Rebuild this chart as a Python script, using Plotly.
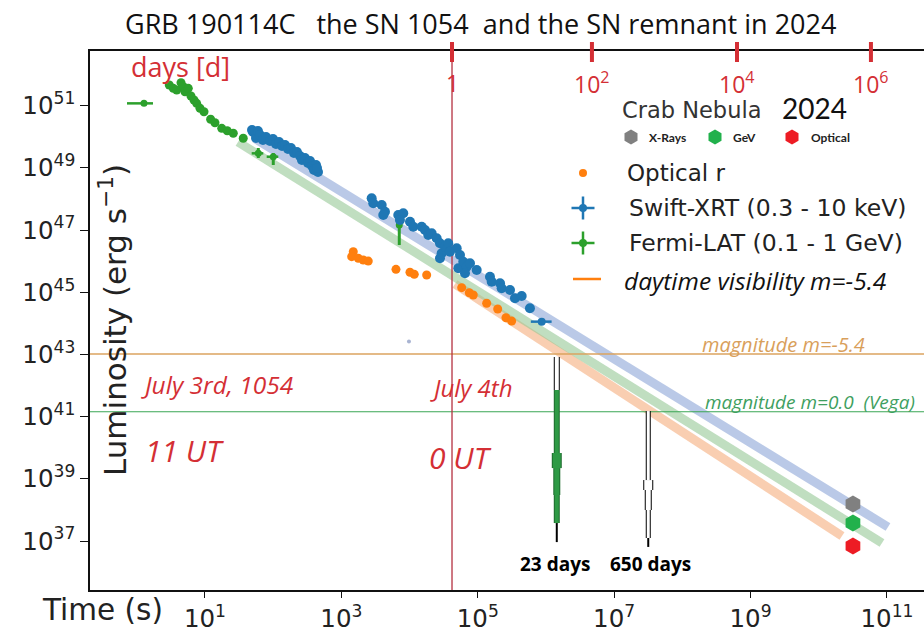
import math
import plotly.graph_objects as go

# ------------------------------------------------------------------ data
# Fermi-LAT (0.1 - 1 GeV) points without visible error bars
fermi_t = [2.996, 3.43, 3.85, 4.45, 4.81, 5.09, 5.69, 6.23, 6.9, 7.55, 8.45, 9.67,
           12.1, 14.0, 17.6, 21.2, 26.0, 36.4]
fermi_L = [4.63e51, 3.62e51, 3.2e51, 5.5e51, 4.08e51, 2.82e51, 3.62e51, 2.05e51,
           1.52e51, 1.19e51, 8.25e50, 6.4e50, 3.66e50, 2.84e50, 1.87e50, 1.57e50,
           1.30e50, 8.96e49]
# Fermi-LAT points with error bars
fermi_e_t = [1.275, 60.5, 100.3, 7063]
fermi_e_L = [1.19e51, 2.94e49, 2.29e49, 1.46e47]
fermi_e_t_lo = [0.718, 48.4, 80.3, 7063]
fermi_e_t_hi = [1.728, 71.6, 118.8, 7063]
fermi_e_L_lo = [1.19e51, 2.08e49, 1.24e49, 3.32e46]
fermi_e_L_hi = [1.19e51, 4.37e49, 3.01e49, 1.82e47]

# Swift-XRT (0.3 - 10 keV)
swift_t = [48.9, 50.6, 56.0, 59.8, 64.0, 70.8, 78.4, 89.8, 99.3, 110, 122, 135, 149,
           165, 182, 202, 223, 247, 264, 292, 324, 347, 371, 397, 424, 454, 439,
           2780, 2935, 3900, 4357, 4115, 6823, 8083, 7228, 10140, 11330, 15040,
           16830, 18800, 21090, 24950, 27910, 29560, 27910, 33050, 36920, 39080,
           49070, 54830, 51800, 61240, 68710, 76870, 96400, 64900, 1.51e5, 1.60e5,
           2.12e5, 2.24e5, 2.97e5, 3.51e5, 4.40e5, 5.82e5]
swift_L = [1.66e50, 1.43e50, 9.14e49, 1.54e50, 1.14e50, 7.89e49, 9.87e49, 7.33e49,
           8.5e49, 5.86e49, 6.8e49, 5.06e49, 5.45e49, 4.05e49, 4.37e49, 3.01e49,
           3.24e49, 2.42e49, 1.80e49, 2.08e49, 1.44e49, 1.67e49, 1.15e49, 8.57e48,
           1.24e49, 7.38e48, 9.94e48,
           1.05e48, 7.27e47, 6.42e47, 3.91e47, 3.06e47, 3.06e47, 3.47e47, 2.11e47,
           1.86e47, 1.29e47, 1.29e47, 1.01e47, 6.95e46, 7.88e46, 5.45e46, 3.77e46,
           1.80e46, 1.24e46, 2.92e46, 3.77e46, 2.02e46, 2.60e46, 1.58e46, 5.91e45,
           9.64e45, 6.65e45, 8.57e45, 5.21e45, 4.08e45, 3.18e45, 2.19e45, 1.95e45,
           1.35e45, 1.19e45, 6.41e44, 7.61e44, 3.06e44]
swift_e_t = [8.65e5]
swift_e_L = [1.14e44]
swift_e_t_lo = [6.0e5]
swift_e_t_hi = [1.21e6]

# Optical r
optical_t = [1494, 1416, 1769, 2094, 2480, 6318, 10137, 11720, 17810, 58070, 75070,
             85900, 1.35e5, 1.96e5, 2.59e5, 3.14e5]
optical_L = [2.02e46, 1.40e46, 1.24e46, 1.09e46, 1.01e46, 5.49e45, 4.40e45, 3.79e45,
             3.60e45, 1.41e45, 9.70e44, 8.19e44, 4.43e44, 2.90e44, 1.52e44, 1.19e44]

stray_t = [9790]
stray_L = [2.62e43]

# extrapolated decay bands (start, end)
band_xrt_t = [54, 1.035e11]
band_xrt_L = [8.8e49, 2.84e37]
band_lat_t = [30.5, 8.45e10]
band_lat_L = [6.8e49, 8.7e36]
band_opt_t = [4.63e4, 2.19e10]
band_opt_L = [1.85e45, 1.46e37]

mag_daytime_L = 1.04e43     # magnitude m=-5.4
mag_vega_L = 1.45e41        # magnitude m=0.0 (Vega)
july4_t = 4.19e4

# Crab Nebula 2024
crab_t = 3.17e10
crab_L = [1.56e38, 3.82e37, 6.95e36]
crab_names = ["X-Rays", "GeV", "Optical"]
crab_colors = ["#808080", "#22b14c", "#ed1c24"]

# days axis markers
day_tick_t = [4.19e4, 4.72e6, 6.32e8, 5.82e10]
day_tick_text = ["1", "10<sup>2</sup>", "10<sup>4</sup>", "10<sup>6</sup>"]

# visibility bars
bar23_t = 1.44e6
bar23_L = [8.3e42, 7.2e41, 6.8e39, 2.23e39, 3.03e38, 3.81e37, 9.3e36]
bar650_t = 3.16e7
bar650_L = [1.52e41, 9.2e38, 4.4e38, 1.0e38, 1.26e37, 6.5e36]

xtick_exp = [1, 3, 5, 7, 9, 11]
ytick_exp = [37, 39, 41, 43, 45, 47, 49, 51]

# ------------------------------------------------------------------ layout helpers
W, H = 924, 632
L, R, T, B = 90, 924, 51, 590


def pxx(x):
    return (x - L) / (R - L)


def pxy(y):
    return (B - y) / (B - T)


BLUE = "#1f77b4"
GREEN = "#2ca02c"
ORANGE = "#ff7f0e"
RED = "#d42f35"
DV = "DejaVu Sans"
LATO = "Lato"
OS = "Open Sans"

fig = go.Figure()


def line(x, y, color, width, **kw):
    fig.add_trace(go.Scatter(x=x, y=y, mode="lines", line=dict(color=color, width=width),
                             hoverinfo="skip", showlegend=False, **kw))


# bands
line(band_opt_t, band_opt_L, "rgba(246,180,135,0.65)", 9)
line(band_lat_t, band_lat_L, "rgba(150,200,150,0.6)", 9)
line(band_xrt_t, band_xrt_L, "rgba(140,165,215,0.6)", 9)

# horizontal magnitude lines and July 4th line
xr = [0.1, 1e12]
line(xr, [mag_daytime_L] * 2, "#dba35f", 1.3)
line(xr, [mag_vega_L] * 2, "#3aa655", 1.1)
line([july4_t] * 2, [1e35, 1e53], "#b5303f", 1.3)

# data
fig.add_trace(go.Scatter(x=optical_t, y=optical_L, mode="markers",
                         marker=dict(color=ORANGE, size=9), showlegend=False))
fig.add_trace(go.Scatter(x=fermi_t, y=fermi_L, mode="markers",
                         marker=dict(color=GREEN, size=9), showlegend=False))
fig.add_trace(go.Scatter(
    x=fermi_e_t, y=fermi_e_L, mode="markers", marker=dict(color=GREEN, size=7),
    error_x=dict(type="data", array=[h - t for h, t in zip(fermi_e_t_hi, fermi_e_t)],
                 arrayminus=[t - l for l, t in zip(fermi_e_t_lo, fermi_e_t)],
                 color=GREEN, thickness=2.5, width=0),
    error_y=dict(type="data", array=[h - v for h, v in zip(fermi_e_L_hi, fermi_e_L)],
                 arrayminus=[v - l for l, v in zip(fermi_e_L_lo, fermi_e_L)],
                 color=GREEN, thickness=3, width=0),
    showlegend=False))
fig.add_trace(go.Scatter(x=swift_t, y=swift_L, mode="markers",
                         marker=dict(color=BLUE, size=10), showlegend=False))
fig.add_trace(go.Scatter(
    x=swift_e_t, y=swift_e_L, mode="markers", marker=dict(color=BLUE, size=8),
    error_x=dict(type="data", array=[h - t for h, t in zip(swift_e_t_hi, swift_e_t)],
                 arrayminus=[t - l for l, t in zip(swift_e_t_lo, swift_e_t)],
                 color=BLUE, thickness=2.5, width=0),
    showlegend=False))
fig.add_trace(go.Scatter(x=stray_t, y=stray_L, mode="markers",
                         marker=dict(color="#a9b4d2", size=4), showlegend=False))

# visibility bars (segments between successive levels)
bar23_style = [("#000000", "#ffffff", 4), ("#1e6b2e", "#2e9a45", 4), ("#1e6b2e", "#2e9a45", 8),
               ("#1e6b2e", "#2e9a45", 5), ("#1e6b2e", "#2e9a45", 4), (None, "#000000", 2)]
bar650_style = [("#000000", "#ffffff", 3), ("#000000", "#ffffff", 8), ("#000000", "#ffffff", 5),
                ("#000000", "#ffffff", 3), (None, "#000000", 2)]
for t, levels, style in [(bar23_t, bar23_L, bar23_style), (bar650_t, bar650_L, bar650_style)]:
    for i, (outline, fill, w) in enumerate(style):
        if outline:
            line([t, t], [levels[i], levels[i + 1]], outline, w + 2)
    for i, (outline, fill, w) in enumerate(style):
        line([t, t], [levels[i], levels[i + 1]], fill, w)

# Crab nebula hexagons
fig.add_trace(go.Scatter(x=[crab_t] * 3, y=crab_L, mode="markers",
                         marker=dict(symbol="hexagon", size=17, color=crab_colors, line=dict(width=0)),
                         showlegend=False))

# ---- overlay (pixel space) for the legend-like decorations
ov = dict(xaxis="x2", yaxis="y2", showlegend=False, hoverinfo="skip", cliponaxis=False)
fig.add_trace(go.Scatter(x=[583], y=[173], mode="markers", marker=dict(color=ORANGE, size=8), **ov))
fig.add_trace(go.Scatter(x=[583], y=[208], mode="markers", marker=dict(color=BLUE, size=8),
                         error_x=dict(type="constant", value=11.5, color=BLUE, thickness=2.5, width=0),
                         error_y=dict(type="constant", value=11.5, color=BLUE, thickness=2.5, width=0), **ov))
fig.add_trace(go.Scatter(x=[583], y=[243], mode="markers", marker=dict(color=GREEN, size=8),
                         error_x=dict(type="constant", value=11.5, color=GREEN, thickness=2.5, width=0),
                         error_y=dict(type="constant", value=11.5, color=GREEN, thickness=2.5, width=0), **ov))
fig.add_trace(go.Scatter(x=[573, 601], y=[279, 279], mode="lines",
                         line=dict(color=ORANGE, width=2.5), **ov))
fig.add_trace(go.Scatter(x=[631, 715, 792], y=[137, 137, 137], mode="markers",
                         marker=dict(symbol="hexagon", size=15, color=crab_colors), **ov))

ann = []


def text(x, y, s, size, color="#222222", family=DV, anchor="left", **kw):
    ann.append(dict(x=pxx(x), y=pxy(y), xref="paper", yref="paper", text=s, showarrow=False,
                    xanchor=anchor, yanchor="middle",
                    font=dict(size=size, color=color, family=family), **kw))


NB = "\u00a0"
text(480, 24, f"GRB 190114C{NB*3}the SN 1054{NB*2}and the SN remnant in 2024", 27, "#111111",
     OS, "center")
text(180, 66, "days [d]", 27, RED, OS, "center")
text(620, 110, "Crab Nebula", 22.5, "#333333")
text(780, 108, "2024", 28, "#111111", LATO)
for xx, s in zip([647, 731, 809], crab_names):
    text(xx, 137, f"<b>{s}</b>", 12, "#222222", LATO)
text(625, 173, "Optical r", 23)
text(627, 208, "Swift-XRT (0.3 - 10 keV)", 23.5)
text(627, 243, "Fermi-LAT (0.1 - 1 GeV)", 23.5)
text(622, 280, "<i>daytime visibility m=-5.4</i>", 24.5, "#111111", OS)
text(700, 344, "<i>magnitude m=-5.4</i>", 20, "#d9a05b", OS)
text(703, 402, f"<i>magnitude m=0.0{NB*2}(Vega)</i>", 19, "#3f9f5f", OS)
text(139, 385, "<i>July 3rd, 1054</i>", 24.5, RED, OS)
text(428, 387, "<i>July 4th</i>", 24, RED, OS)
text(143, 450, "<i>11 UT</i>", 30, RED, OS)
text(427, 457, f"<i>0{NB}UT</i>", 30, RED, OS)
text(518, 564, "<b>23 days</b>", 19, "#000000", OS)
text(608, 564, "<b>650 days</b>", 19, "#000000", OS)
text(40, 610, "Time (s)", 29.5)
ann.append(dict(x=pxx(113), y=pxy(320), xref="paper", yref="paper",
                text="Luminosity (erg s<sup>\u22121</sup>)", showarrow=False, textangle=-90,
                xanchor="center", yanchor="middle", font=dict(size=31, color="#222222", family=DV)))

# day tick labels, positioned in data coordinates of the time axis
for t, s in zip(day_tick_t, day_tick_text):
    ann.append(dict(x=math.log10(t), y=pxy(83), xref="x", yref="paper", text=s, showarrow=False,
                    xanchor="center", yanchor="middle", font=dict(size=23, color=RED, family=OS)))

shapes = []
for t in day_tick_t:
    shapes.append(dict(type="line", xref="x", yref="paper", x0=t, x1=t, y0=pxy(62), y1=pxy(42),
                       line=dict(color=RED, width=4)))

fig.update_layout(
    width=W, height=H, margin=dict(l=L, r=W - R, t=T, b=H - B),
    paper_bgcolor="white", plot_bgcolor="white",
    annotations=ann, shapes=shapes,
    xaxis=dict(type="log", range=[-0.686, 11.543], showgrid=False, zeroline=False,
               showline=True, linecolor="#111111", linewidth=1.6, mirror=True,
               ticks="outside", ticklen=6, tickwidth=1.4, tickcolor="#111111",
               tickvals=[10.0 ** e for e in xtick_exp],
               ticktext=[f"10<sup>{e}</sup>" for e in xtick_exp],
               tickfont=dict(size=24.5, color="#222222", family=DV), automargin=False),
    yaxis=dict(type="log", range=[35.428, 52.759], showgrid=False, zeroline=False,
               showline=True, linecolor="#111111", linewidth=1.6,
               ticks="outside", ticklen=8, tickwidth=1.4, tickcolor="#111111",
               tickvals=[10.0 ** e for e in ytick_exp],
               ticktext=[f"10<sup>{e}</sup>" for e in ytick_exp],
               tickfont=dict(size=24.5, color="#222222", family=DV), automargin=False),
    xaxis2=dict(overlaying="x", anchor="y2", range=[L, R], visible=False, fixedrange=True),
    yaxis2=dict(overlaying="y", anchor="x2", range=[B, T], visible=False, fixedrange=True),
    showlegend=False,
)

fig.write_html("out.html", config={"displayModeBar": False},
               post_script="document.body.style.margin='0px';document.body.style.overflow='hidden';")
